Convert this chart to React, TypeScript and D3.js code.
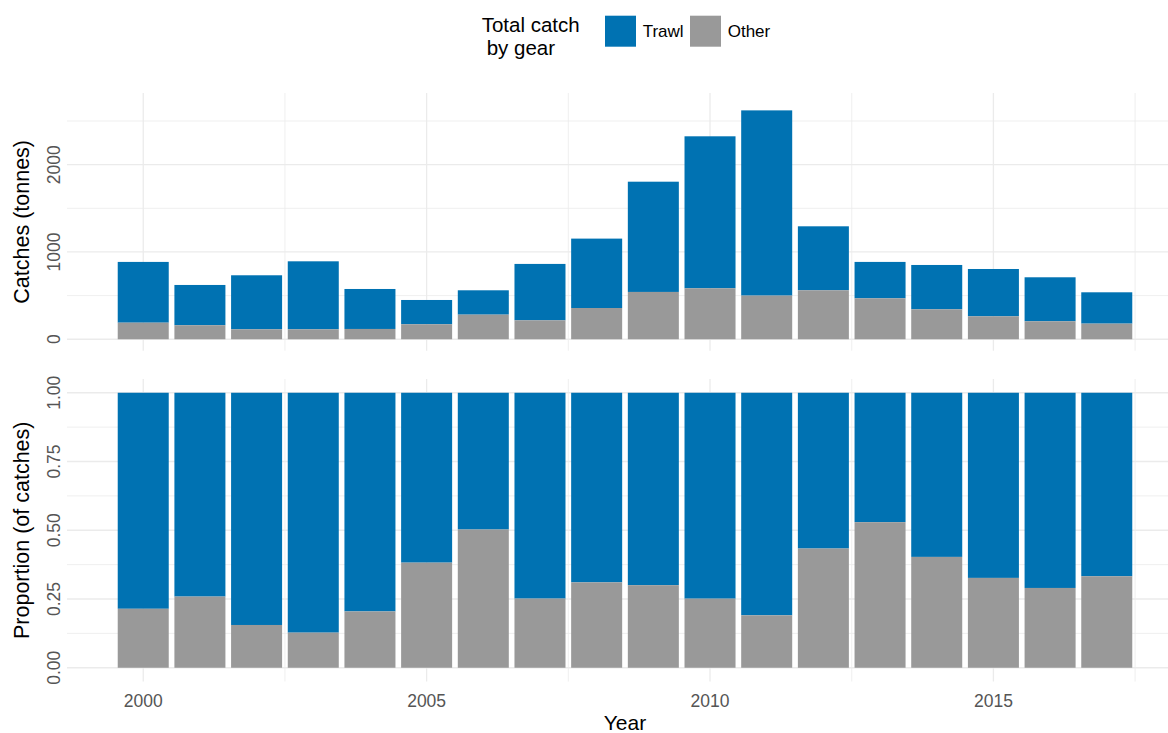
import React from "react";
import * as d3 from "d3";

// Annual catches by gear type (tonnes)
const years = [2000, 2001, 2002, 2003, 2004, 2005, 2006, 2007, 2008, 2009, 2010, 2011, 2012, 2013, 2014, 2015, 2016, 2017];
const trawl = [696, 461, 619, 779, 458, 278, 279, 646, 795, 1263, 1741, 2122, 733, 417, 508, 542, 504, 359];
const other = [190, 161, 114, 114, 118, 172, 282, 217, 358, 542, 584, 500, 561, 469, 343, 263, 206, 179];

const gears = ["Trawl", "Other"];
const gearColors = ["#0072B2", "#999999"];

const xMajor = [2000, 2005, 2010, 2015];
const xMinor = [2002.5, 2007.5, 2012.5, 2017.5];
const catchMajor = [0, 1000, 2000];
const catchMinor = [500, 1500, 2500];
const propMajor = [0, 0.25, 0.5, 0.75, 1];
const propMinor = [0.125, 0.375, 0.625, 0.875];

const W = 1168;
const H = 733;
const FONT = "'Liberation Sans', Arial, Helvetica, sans-serif";
const GRID = "#ebebeb";
const TICK = "#555555";

const BAR_W = 0.9;

export default function App() {
  const x = d3.scaleLinear().domain([1998.655, 2018.345]).range([67, 1183]);
  const yTop = d3.scaleLinear().domain([-131, 2821]).range([350.7, 93]);
  const yBot = d3.scaleLinear().domain([-0.05, 1.05]).range([681.5, 379]);

  const rows = years.map((yr, i) => {
    const total = trawl[i] + other[i];
    return { yr, trawl: trawl[i], other: other[i], total, pOther: other[i] / total };
  });

  const bw = x(BAR_W) - x(0);

  const panel = (
    y: d3.ScaleLinear<number, number>,
    major: number[],
    minor: number[],
    fmt: (v: number) => string,
    title: string,
    key: string
  ) => {
    const [y0, y1] = y.range();
    const [x0, x1] = x.range();
    const titleY = (y0 + y1) / 2;
    return (
      <g key={key}>
        {minor.map((v) => (
          <line key={"hm" + v} x1={x0} x2={x1} y1={y(v)} y2={y(v)} stroke={GRID} strokeWidth={0.8} />
        ))}
        {xMinor.map((v) => (
          <line key={"vm" + v} x1={x(v)} x2={x(v)} y1={y0} y2={y1} stroke={GRID} strokeWidth={0.8} />
        ))}
        {major.map((v) => (
          <line key={"hM" + v} x1={x0} x2={x1} y1={y(v)} y2={y(v)} stroke={GRID} strokeWidth={1.3} />
        ))}
        {xMajor.map((v) => (
          <line key={"vM" + v} x1={x(v)} x2={x(v)} y1={y0} y2={y1} stroke={GRID} strokeWidth={1.3} />
        ))}
        {major.map((v) => (
          <text
            key={"t" + v}
            transform={`translate(60,${y(v)}) rotate(-90)`}
            textAnchor="middle"
            fontSize={17.5}
            fill={TICK}
            fontFamily={FONT}
          >
            {fmt(v)}
          </text>
        ))}
        <text
          transform={`translate(29,${titleY}) rotate(-90)`}
          textAnchor="middle"
          fontSize={21.5}
          fill="#000"
          fontFamily={FONT}
        >
          {title}
        </text>
      </g>
    );
  };

  return (
    <svg width={W} height={H} style={{ position: "absolute", left: 0, top: 0, background: "#fff" }}>
      {panel(yTop, catchMajor, catchMinor, (v) => String(v), "Catches (tonnes)", "top")}
      {panel(yBot, propMajor, propMinor, (v) => v.toFixed(2), "Proportion (of catches)", "bot")}

      {/* absolute catches, stacked */}
      {rows.map((r) => (
        <g key={"a" + r.yr}>
          <rect x={x(r.yr) - bw / 2} width={bw} y={yTop(r.total)} height={yTop(r.other) - yTop(r.total)} fill={gearColors[0]} />
          <rect x={x(r.yr) - bw / 2} width={bw} y={yTop(r.other)} height={yTop(0) - yTop(r.other)} fill={gearColors[1]} />
        </g>
      ))}

      {/* proportions, stacked to 1 */}
      {rows.map((r) => (
        <g key={"p" + r.yr}>
          <rect x={x(r.yr) - bw / 2} width={bw} y={yBot(1)} height={yBot(r.pOther) - yBot(1)} fill={gearColors[0]} />
          <rect x={x(r.yr) - bw / 2} width={bw} y={yBot(r.pOther)} height={yBot(0) - yBot(r.pOther)} fill={gearColors[1]} />
        </g>
      ))}

      {/* x axis */}
      {xMajor.map((v) => (
        <text key={"xt" + v} x={x(v)} y={706.5} textAnchor="middle" fontSize={17.5} fill={TICK} fontFamily={FONT}>
          {v}
        </text>
      ))}
      <text x={(x.range()[0] + x.range()[1]) / 2} y={730} textAnchor="middle" fontSize={21} fill="#000" fontFamily={FONT}>
        Year
      </text>

      {/* legend */}
      <text x={481.7} y={32.3} fontSize={20.5} fill="#000" fontFamily={FONT}>
        Total catch
      </text>
      <text x={486.7} y={55} fontSize={20.5} fill="#000" fontFamily={FONT}>
        by gear
      </text>
      {gears.map((g, i) => {
        const kx = [605, 690][i];
        return (
          <g key={g}>
            <rect x={kx} y={15.7} width={31} height={31} fill={gearColors[i]} />
            <text x={kx + 37.7} y={37.3} fontSize={17} fill="#000" fontFamily={FONT}>
              {g}
            </text>
          </g>
        );
      })}
    </svg>
  );
}
